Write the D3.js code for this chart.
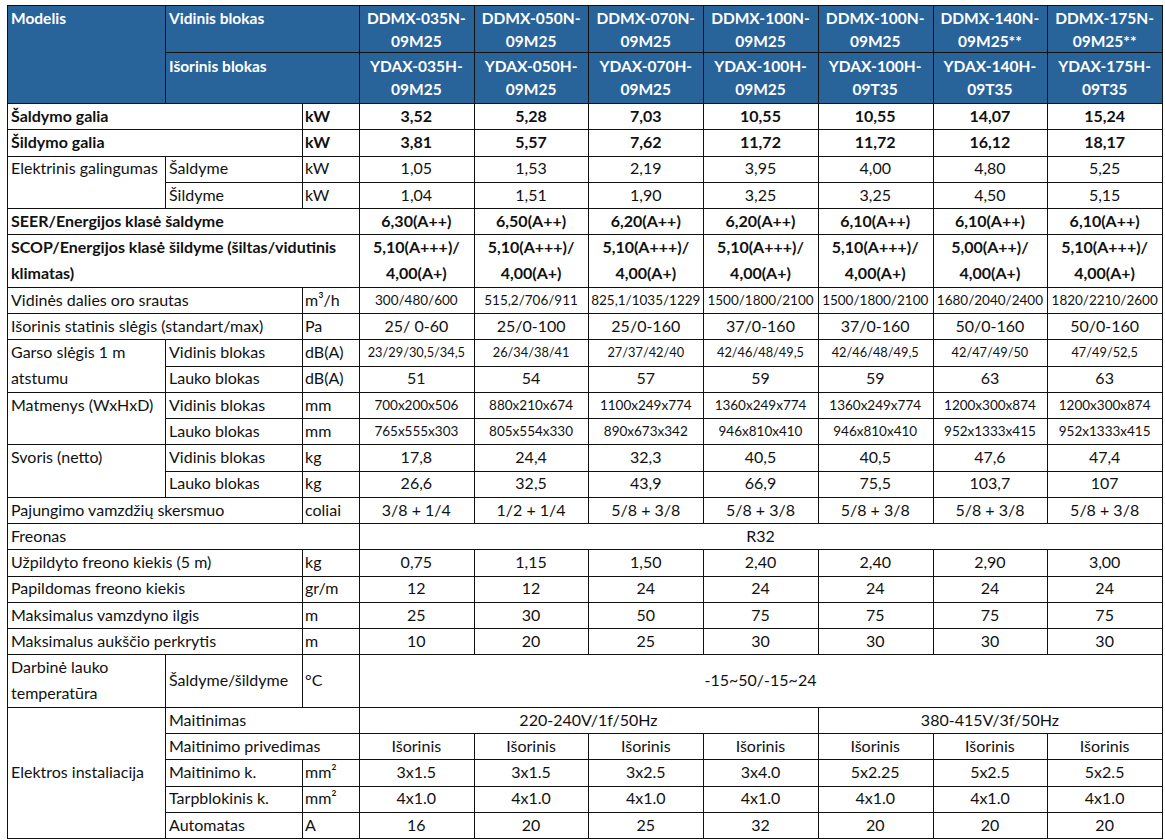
<!DOCTYPE html>
<html>
<head>
<meta charset="utf-8">
<script src="https://cdn.jsdelivr.net/npm/d3@7"></script>
<style>
  body { margin: 0; background: #fff; }
  text { font-family: Lato, "Open Sans", sans-serif; }
</style>
</head>
<body>
<script>
// models
var indoorModels = ['DDMX-035N-09M25', 'DDMX-050N-09M25', 'DDMX-070N-09M25', 'DDMX-100N-09M25', 'DDMX-100N-09M25', 'DDMX-140N-09M25**', 'DDMX-175N-09M25**'];
var outdoorModels = ['YDAX-035H-09M25', 'YDAX-050H-09M25', 'YDAX-070H-09M25', 'YDAX-100H-09M25', 'YDAX-100H-09T35', 'YDAX-140H-09T35', 'YDAX-175H-09T35'];

// specs, one entry per model
var coolingCapacity = ['3,52', '5,28', '7,03', '10,55', '10,55', '14,07', '15,24'];
var heatingCapacity = ['3,81', '5,57', '7,62', '11,72', '11,72', '16,12', '18,17'];
var powerCooling = ['1,05', '1,53', '2,19', '3,95', '4,00', '4,80', '5,25'];
var powerHeating = ['1,04', '1,51', '1,90', '3,25', '3,25', '4,50', '5,15'];
var seer = ['6,30(A++)', '6,50(A++)', '6,20(A++)', '6,20(A++)', '6,10(A++)', '6,10(A++)', '6,10(A++)'];
var scopWarm = ['5,10(A+++)/', '5,10(A+++)/', '5,10(A+++)/', '5,10(A+++)/', '5,10(A+++)/', '5,00(A++)/', '5,10(A+++)/'];
var scopAverage = ['4,00(A+)', '4,00(A+)', '4,00(A+)', '4,00(A+)', '4,00(A+)', '4,00(A+)', '4,00(A+)'];
var airflow = ['300/480/600', '515,2/706/911', '825,1/1035/1229', '1500/1800/2100', '1500/1800/2100', '1680/2040/2400', '1820/2210/2600'];
var staticPressure = ['25/ 0-60', '25/0-100', '25/0-160', '37/0-160', '37/0-160', '50/0-160', '50/0-160'];
var noiseIndoor = ['23/29/30,5/34,5', '26/34/38/41', '27/37/42/40', '42/46/48/49,5', '42/46/48/49,5', '42/47/49/50', '47/49/52,5'];
var noiseOutdoor = ['51', '54', '57', '59', '59', '63', '63'];
var sizeIndoor = ['700x200x506', '880x210x674', '1100x249x774', '1360x249x774', '1360x249x774', '1200x300x874', '1200x300x874'];
var sizeOutdoor = ['765x555x303', '805x554x330', '890x673x342', '946x810x410', '946x810x410', '952x1333x415', '952x1333x415'];
var weightIndoor = ['17,8', '24,4', '32,3', '40,5', '40,5', '47,6', '47,4'];
var weightOutdoor = ['26,6', '32,5', '43,9', '66,9', '75,5', '103,7', '107'];
var pipeSize = ['3/8 + 1/4', '1/2 + 1/4', '5/8 + 3/8', '5/8 + 3/8', '5/8 + 3/8', '5/8 + 3/8', '5/8 + 3/8'];
var refrigerant = ['R32'];
var chargeAmount = ['0,75', '1,15', '1,50', '2,40', '2,40', '2,90', '3,00'];
var extraCharge = ['12', '12', '24', '24', '24', '24', '24'];
var maxPipeLength = ['25', '30', '50', '75', '75', '75', '75'];
var maxHeightDiff = ['10', '20', '25', '30', '30', '30', '30'];
var operatingTemp = ['-15~50/-15~24'];
var powerSupply = ['220-240V/1f/50Hz', '380-415V/3f/50Hz'];
var powerSupplySpans = [4, 3];
var supplySide = ['Išorinis', 'Išorinis', 'Išorinis', 'Išorinis', 'Išorinis', 'Išorinis', 'Išorinis'];
var powerCable = ['3x1.5', '3x1.5', '3x2.5', '3x4.0', '5x2.25', '5x2.5', '5x2.5'];
var interCable = ['4x1.0', '4x1.0', '4x1.0', '4x1.0', '4x1.0', '4x1.0', '4x1.0'];
var breaker = ['16', '20', '25', '32', '20', '20', '20'];

var rows = [
  {group: 'Šaldymo galia', unit: 'kW', vals: coolingCapacity, bold: true},
  {group: 'Šildymo galia', unit: 'kW', vals: heatingCapacity, bold: true},
  {group: 'Elektrinis galingumas', groupRows: 2, sub: 'Šaldyme', unit: 'kW', vals: powerCooling},
  {sub: 'Šildyme', unit: 'kW', vals: powerHeating},
  {group: 'SEER/Energijos klasė šaldyme', vals: seer, bold: true},
  {group: ['SCOP/Energijos klasė šildyme (šiltas/vidutinis', 'klimatas)'], h: 2, vals: d3.zip(scopWarm, scopAverage), bold: true},
  {group: 'Vidinės dalies oro srautas', unit: 'm³/h', vals: airflow, size: 'small'},
  {group: 'Išorinis statinis slėgis (standart/max)', unit: 'Pa', vals: staticPressure},
  {group: ['Garso slėgis 1 m', 'atstumu'], groupRows: 2, sub: 'Vidinis blokas', unit: 'dB(A)', vals: noiseIndoor, size: 'tiny'},
  {sub: 'Lauko blokas', unit: 'dB(A)', vals: noiseOutdoor},
  {group: 'Matmenys (WxHxD)', groupRows: 2, sub: 'Vidinis blokas', unit: 'mm', vals: sizeIndoor, size: 'small'},
  {sub: 'Lauko blokas', unit: 'mm', vals: sizeOutdoor, size: 'small'},
  {group: 'Svoris (netto)', groupRows: 2, sub: 'Vidinis blokas', unit: 'kg', vals: weightIndoor},
  {sub: 'Lauko blokas', unit: 'kg', vals: weightOutdoor},
  {group: 'Pajungimo vamzdžių skersmuo', unit: 'coliai', vals: pipeSize},
  {group: 'Freonas', vals: refrigerant, spans: [7]},
  {group: 'Užpildyto freono kiekis (5 m)', unit: 'kg', vals: chargeAmount},
  {group: 'Papildomas freono kiekis', unit: 'gr/m', vals: extraCharge},
  {group: 'Maksimalus vamzdyno ilgis', unit: 'm', vals: maxPipeLength},
  {group: 'Maksimalus aukščio perkrytis', unit: 'm', vals: maxHeightDiff},
  {group: ['Darbinė lauko', 'temperatūra'], h: 2, sub: 'Šaldyme/šildyme', unit: '°C', vals: operatingTemp, spans: [7]},
  {group: 'Elektros instaliacija', groupRows: 5, mid: true, sub: 'Maitinimas', vals: powerSupply, spans: powerSupplySpans},
  {sub: 'Maitinimo privedimas', vals: supplySide},
  {sub: 'Maitinimo k.', unit: 'mm²', vals: powerCable},
  {sub: 'Tarpblokinis k.', unit: 'mm²', vals: interCable},
  {sub: 'Automatas', unit: 'A', vals: breaker}
];

var width = 1165, height = 840;
var fontSize = {head: 15.5, normal: 16, small: 13.5, tiny: 12.8};
var headBlue = '#28639a';

var tableLeft = 7, subLeft = 165, unitLeft = 302, valLeft = 359, tableRight = 1162;
var headTop = 5, headMid = 52, bodyTop = 103, bodyBottom = 838;

var totalUnits = d3.sum(rows, function(d) { return d.h || 1; });

var x = d3.scaleBand().domain(d3.range(indoorModels.length)).range([valLeft, tableRight]);
var y = d3.scaleLinear().domain([0, totalUnits]).range([bodyTop, bodyBottom]);

var svg = d3.select('body').append('svg')
  .attr('width', width)
  .attr('height', height);

var grid = svg.append('g').attr('shape-rendering', 'crispEdges');
var labels = svg.append('g');

function box(x0, x1, y0, y1, fill) {
  grid.append('rect')
    .attr('x', Math.round(x0) + 0.5)
    .attr('y', Math.round(y0) + 0.5)
    .attr('width', Math.round(x1) - Math.round(x0))
    .attr('height', Math.round(y1) - Math.round(y0))
    .attr('fill', fill || '#fff')
    .attr('stroke', '#111')
    .attr('stroke-width', 1);
}

function label(tx, ty, str, opts) {
  opts = opts || {};
  labels.append('text')
    .attr('x', tx)
    .attr('y', ty)
    .attr('dy', '0.36em')
    .attr('text-anchor', opts.anchor || 'start')
    .attr('font-size', fontSize[opts.size || 'normal'])
    .attr('font-weight', opts.bold ? 700 : 400)
    .attr('fill', opts.color || '#111')
    .text(str);
}

// header
box(tableLeft, subLeft, headTop, bodyTop, headBlue);
label(tableLeft + 4, 18, 'Modelis', {bold: true, color: '#fff', size: 'head'});
box(subLeft, valLeft, headTop, headMid, headBlue);
label(subLeft + 4, 18, 'Vidinis blokas', {bold: true, color: '#fff', size: 'head'});
box(subLeft, valLeft, headMid, bodyTop, headBlue);
label(subLeft + 4, 66, 'Išorinis blokas', {bold: true, color: '#fff', size: 'head'});

indoorModels.forEach(function(m, i) {
  var cx = x(i) + x.bandwidth() / 2;
  box(x(i), x(i) + x.bandwidth(), headTop, headMid, headBlue);
  box(x(i), x(i) + x.bandwidth(), headMid, bodyTop, headBlue);
  m.replace(/-(09)/, '-\n$1').split('\n').forEach(function(t, k) {
    label(cx, 18 + k * 23, t, {anchor: 'middle', bold: true, color: '#fff', size: 'head'});
  });
  outdoorModels[i].replace(/-(09)/, '-\n$1').split('\n').forEach(function(t, k) {
    label(cx, 66 + k * 23, t, {anchor: 'middle', bold: true, color: '#fff', size: 'head'});
  });
});

// body
var r = 0;
rows.forEach(function(row) {
  var h = row.h || 1;
  var y0 = y(r), y1 = y(r + h), ym = (y0 + y1) / 2;

  if (row.group !== undefined) {
    var gRows = row.groupRows || h;
    var gRight = row.sub ? subLeft : (row.unit ? unitLeft : valLeft);
    box(tableLeft, gRight, y(r), y(r + gRows));
    var lines = [].concat(row.group);
    lines.forEach(function(t, k) {
      var ty = row.mid ? y(r + gRows / 2) : y(r + k + 0.5);
      label(tableLeft + 4, ty, t, {bold: row.bold});
    });
  }
  if (row.sub) {
    box(subLeft, row.unit ? unitLeft : valLeft, y0, y1);
    label(subLeft + 4, ym, row.sub);
  }
  if (row.unit) {
    box(unitLeft, valLeft, y0, y1);
    label(unitLeft + 3, ym, row.unit, {bold: row.bold});
  }

  var spans = row.spans || row.vals.map(function() { return 1; });
  var col = 0;
  row.vals.forEach(function(v, i) {
    var s = spans[i];
    var vx0 = x(col), vx1 = x(col + s - 1) + x.bandwidth();
    box(vx0, vx1, y0, y1);
    var parts = [].concat(v);
    parts.forEach(function(t, k) {
      var ty = parts.length === h ? y(r + k + 0.5) : ym;
      label((vx0 + vx1) / 2, ty, t, {anchor: 'middle', bold: row.bold, size: row.size});
    });
    col += s;
  });

  r += h;
});
</script>
</body>
</html>
